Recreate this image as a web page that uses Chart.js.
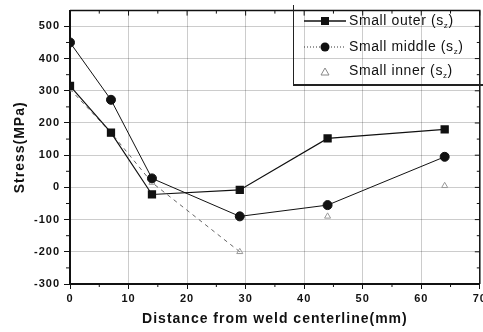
<!DOCTYPE html>
<html>
<head>
<meta charset="utf-8">
<script src="https://cdn.jsdelivr.net/npm/chart.js@4"></script>
<style>
  html, body { margin: 0; padding: 0; background: #fff; overflow: hidden; }
  #wrap { position: relative; width: 483px; height: 332px; overflow: hidden; }
  #legend {
    position: absolute; left: 293px; top: 5px; width: 192px; height: 81px;
    box-sizing: border-box; border-left: 1.5px solid #222; border-bottom: 2px solid #222;
    font-family: "Liberation Sans", Arial, sans-serif; font-size: 14px; color: #111;
    letter-spacing: 0.6px;
  }
  .row { position: absolute; left: 0; height: 20px; display: flex; align-items: center; }
  .row svg { margin-left: 10px; margin-right: 3px; }
  sub { font-size: 8px; vertical-align: -3px; }
</style>
</head>
<body>
<div id="wrap">
  <canvas id="chart" width="486" height="332"></canvas>
  <div id="legend">
    <div class="row" style="top:6px">
      <svg width="42" height="12"><line x1="0" y1="6" x2="42" y2="6" stroke="#111" stroke-width="1.3"/><rect x="17" y="2" width="8" height="8" fill="#111"/></svg>
      <span>Small outer (s<sub>z</sub>)</span>
    </div>
    <div class="row" style="top:32px">
      <svg width="42" height="12"><line x1="0" y1="6" x2="42" y2="6" stroke="#333" stroke-width="1" stroke-dasharray="1,2"/><circle cx="21" cy="6" r="4.5" fill="#111"/></svg>
      <span>Small middle (s<sub>z</sub>)</span>
    </div>
    <div class="row" style="top:56px">
      <svg width="42" height="12"><path d="M17 10 L21 3 L25 10 Z" fill="none" stroke="#888" stroke-width="1"/></svg>
      <span>Small inner (s<sub>z</sub>)</span>
    </div>
  </div>
</div>
<script>
// distance from weld centerline (mm)
const distances = [0, 7, 14, 29, 44, 64];
const outerStress = [315, 170, -22, -8, 152, 180];
const middleStress = [450, 272, 28, -90, -55, 95];
const innerStress = [305, 170, 15, -200, -90, 5];

const xTicks = [0, 10, 20, 30, 40, 50, 60, 70];
const yTicks = [-300, -200, -100, 0, 100, 200, 300, 400, 500];

function toPoints(values) {
  return distances.map((d, i) => ({ x: d, y: values[i] }));
}

const tickFont = { family: 'Liberation Sans', size: 11, weight: 'bold' };
const titleFont = { family: 'Liberation Sans', size: 14, weight: 'bold' };

// wider letters like the scanned figure
const spacingPlugin = {
  id: 'spacing',
  beforeDraw(chart) { chart.ctx.letterSpacing = '1px'; }
};

// frame on top and right, plus minor ticks
const framePlugin = {
  id: 'frame',
  afterDraw(chart) {
    const { ctx, chartArea: a, scales } = chart;
    ctx.save();
    ctx.letterSpacing = '0px';
    ctx.strokeStyle = '#111';
    ctx.lineWidth = 1.5;
    ctx.beginPath();
    ctx.moveTo(a.left, a.top);
    ctx.lineTo(a.right, a.top);
    ctx.lineTo(a.right, a.bottom);
    ctx.stroke();
    ctx.lineWidth = 1;
    for (let v = 0; v <= 70; v += 5) {
      const px = scales.x.getPixelForValue(v);
      ctx.beginPath();
      ctx.moveTo(px, a.top);
      ctx.lineTo(px, a.top + (v % 10 === 0 ? 5 : 3));
      if (v % 10 !== 0) {
        ctx.moveTo(px, a.bottom);
        ctx.lineTo(px, a.bottom + 3);
      }
      ctx.stroke();
    }
    for (let v = -300; v <= 500; v += 50) {
      const py = scales.y.getPixelForValue(v);
      ctx.beginPath();
      ctx.moveTo(a.right, py);
      ctx.lineTo(a.right - (v % 100 === 0 ? 5 : 3), py);
      if (v % 100 !== 0) {
        ctx.moveTo(a.left, py);
        ctx.lineTo(a.left - 4, py);
      }
      ctx.stroke();
    }
    ctx.restore();
  }
};

new Chart(document.getElementById('chart'), {
  type: 'line',
  data: {
    datasets: [
      {
        label: 'Small outer',
        data: toPoints(outerStress),
        borderColor: '#111',
        backgroundColor: '#111',
        borderWidth: 1.2,
        pointStyle: 'rect',
        pointRadius: 5,
        tension: 0
      },
      {
        label: 'Small middle',
        data: toPoints(middleStress),
        borderColor: '#111',
        backgroundColor: '#111',
        borderWidth: 1,
        pointStyle: 'circle',
        pointRadius: 4.5,
        tension: 0
      },
      {
        label: 'Small inner',
        data: toPoints(innerStress),
        borderColor: '#666',
        backgroundColor: 'transparent',
        pointBorderColor: '#999',
        borderWidth: 1,
        borderDash: [4, 4],
        pointStyle: 'triangle',
        pointRadius: 3.5,
        tension: 0,
        segment: {
          borderColor: c => (c.p0.parsed.x >= 29 ? 'rgba(0,0,0,0)' : '#666')
        }
      }
    ]
  },
  options: {
    responsive: false,
    animation: false,
    layout: { padding: { top: 5, right: 2, left: 0, bottom: 0 } },
    plugins: { legend: { display: false }, tooltip: { enabled: false } },
    scales: {
      x: {
        type: 'linear',
        min: 0,
        max: 70,
        afterBuildTicks: s => { s.ticks = xTicks.map(v => ({ value: v })); },
        afterFit: s => { s.height = 48; s.paddingRight = 0; s.paddingLeft = 0; },
        border: { color: '#111', width: 2 },
        grid: {
          color: 'rgba(0,0,0,0.2)',
          borderDash: [1, 7],
          tickColor: '#111',
          tickBorderDash: [],
          tickLength: 5
        },
        ticks: { color: '#111', font: tickFont, padding: 3, maxRotation: 0 },
        title: {
          display: true,
          text: 'Distance from weld centerline(mm)',
          color: '#111',
          font: titleFont,
          padding: { top: 4 }
        }
      },
      y: {
        min: -300,
        max: 549,
        afterBuildTicks: s => { s.ticks = yTicks.map(v => ({ value: v })); },
        afterFit: s => { s.width = 70; },
        border: { color: '#111', width: 2 },
        grid: {
          color: 'rgba(0,0,0,0.2)',
          borderDash: [1, 7],
          tickColor: '#111',
          tickBorderDash: [],
          tickLength: 6
        },
        ticks: { color: '#111', font: tickFont, padding: 4 },
        title: {
          display: true,
          text: 'Stress(MPa)',
          color: '#111',
          font: titleFont,
          padding: { top: 12, bottom: 4 }
        }
      }
    }
  },
  plugins: [spacingPlugin, framePlugin]
});
</script>
</body>
</html>
